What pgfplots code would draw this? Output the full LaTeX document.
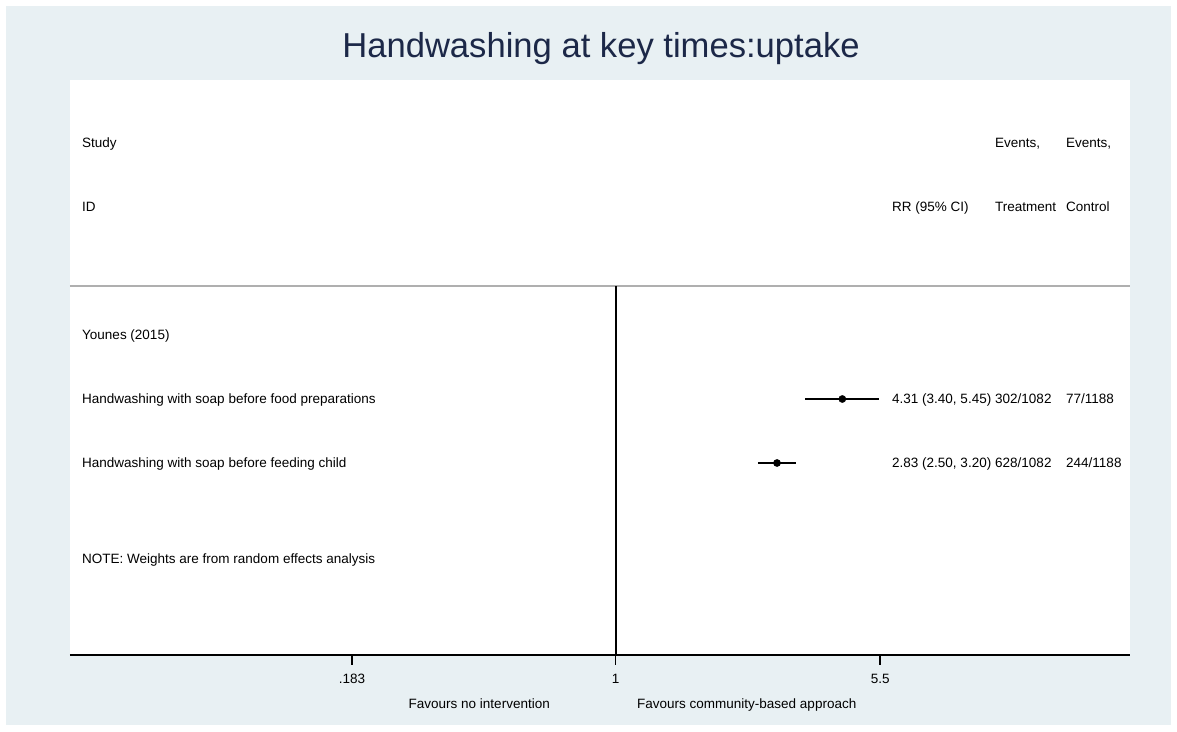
\documentclass[border=0pt]{standalone}
\usepackage{fontspec}
\setmainfont{Liberation Sans}
\usepackage{pgfplots}
\pgfplotsset{compat=1.18}
\definecolor{bgcol}{RGB}{232,240,243}
\definecolor{titlecol}{RGB}{28,40,72}
\definecolor{sepcol}{RGB}{175,175,175}
\newcommand{\tf}{\fontsize{13.5}{16}\selectfont}
\begin{document}
\begin{tikzpicture}[x=1pt,y=1pt]
\fill[white] (-70,-76) rectangle (1107,655);
\fill[bgcol] (-64,-70) rectangle (1101,649);
\fill[white] (0,0) rectangle (1060,575);
\begin{axis}[
  at={(0,0)}, anchor=south west,
  scale only axis, width=1060pt, height=575pt,
  xmode=log, xmin=0.02974, xmax=27.52,
  ymin=0, ymax=575,
  axis x line*=bottom, axis y line=none,
  x axis line style={-, line width=2.4pt, black},
  xtick={0.183,1,5.5}, xticklabels={.183,1,5.5},
  xtick pos=bottom,
  xminorticks=false,
  major tick length=0pt,
  xticklabel style={font=\tf, anchor=north, yshift=-16pt},
  /pgf/number format/assume math mode=true,
  clip=false,
]
% tick marks
\draw[black, line width=1.4pt] (axis cs:0.183,0) -- ++(0pt,-10pt);
\draw[black, line width=1.4pt] (axis cs:1,0) -- ++(0pt,-10pt);
\draw[black, line width=1.4pt] (axis cs:5.5,0) -- ++(0pt,-10pt);
% separator and null line
\addplot[sepcol, line width=1.5pt] coordinates {(0.02974,369) (27.52,369)};
\addplot[black, line width=2pt] coordinates {(1,0) (1,369)};
% confidence intervals
\addplot[black, line width=2pt] coordinates {(3.40,256) (5.45,256)};
\addplot[black, line width=2pt] coordinates {(2.50,192) (3.20,192)};
% point estimates
\addplot[only marks, mark=*, mark size=3.6pt, black] coordinates {(4.31,256) (2.83,192)};
\end{axis}
% title
\node[anchor=base, text=titlecol, font=\fontsize{34.6}{40}\selectfont] at (531,597) {Handwashing at key times:uptake};
% header
\begin{scope}[every node/.style={font=\tf, inner sep=0pt}]
\node[anchor=base west] at (12,507) {Study};
\node[anchor=base west] at (12,443) {ID};
\node[anchor=base west] at (925,507) {Events,};
\node[anchor=base west] at (996,507) {Events,};
\node[anchor=base west] at (822,443) {RR (95\% CI)};
\node[anchor=base west] at (925,443) {Treatment};
\node[anchor=base west] at (996,443) {Control};
% rows
\node[anchor=base west] at (12,315) {Younes (2015)};
\node[anchor=base west] at (12,251) {Handwashing with soap before food preparations};
\node[anchor=base west] at (822,251) {4.31 (3.40, 5.45)};
\node[anchor=base west] at (925,251) {302/1082};
\node[anchor=base west] at (996,251) {77/1188};
\node[anchor=base west] at (12,187) {Handwashing with soap before feeding child};
\node[anchor=base west] at (822,187) {2.83 (2.50, 3.20)};
\node[anchor=base west] at (925,187) {628/1082};
\node[anchor=base west] at (996,187) {244/1188};
\node[anchor=base west] at (12,92) {NOTE: Weights are from random effects analysis};
% x axis descriptions
\node[anchor=base east] at (480,-53) {Favours no intervention};
\node[anchor=base west] at (567,-53) {Favours community-based approach};
\end{scope}
\end{tikzpicture}
\end{document}
